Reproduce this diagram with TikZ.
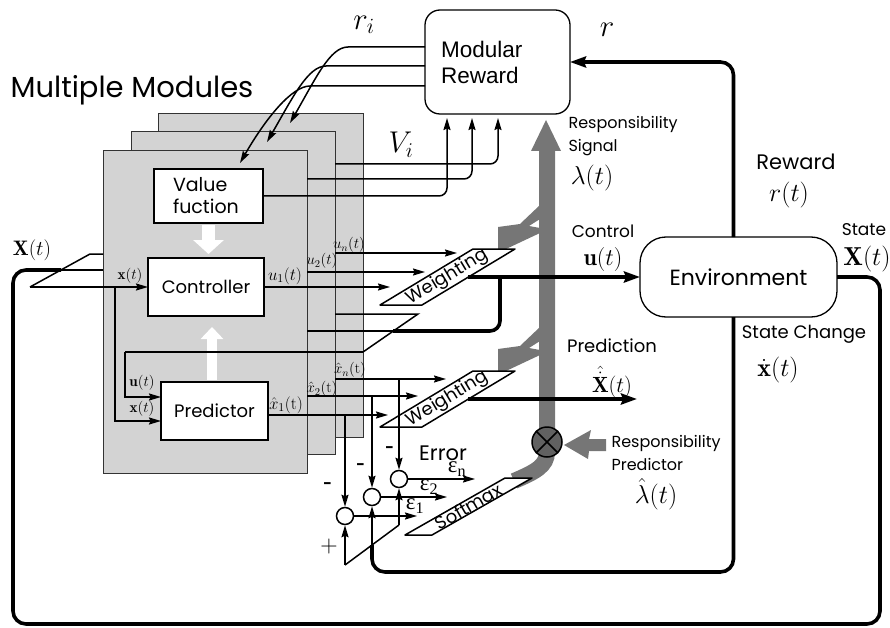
\documentclass[tikz,border=0pt]{standalone}
\usepackage{fix-cm}
\usepackage{fontspec}
\newfontfamily\gothic{Poppins}
\newfontfamily\arial{Liberation Sans}
\newfontfamily\tserif{Liberation Serif}
\usetikzlibrary{arrows.meta}
\definecolor{plategray}{HTML}{D3D3D3}
\definecolor{bargray}{HTML}{767676}
\begin{document}
\begin{tikzpicture}[x=1pt,y=-1pt,
  thinl/.style={line width=1.5pt},
  thickl/.style={line width=3.6pt},
  arr/.style={-{Stealth[length=12pt,width=7pt,inset=1.5pt]}},
  bigarr/.style={-{Stealth[length=16pt,width=11pt,inset=2pt]}},
  plate/.style={fill=plategray,draw=black!80,line width=1pt,inner sep=0pt,outer sep=0pt,anchor=north west},
  box/.style={draw,fill=white,line width=1.3pt,inner sep=0pt,outer sep=0pt},
  gt/.style={font=\gothic\fontsize{#1}{#1}\selectfont},
  mt/.style={font=\fontsize{#1}{#1}\selectfont,inner sep=0pt},
  et/.style={font=\tserif\fontsize{#1}{#1}\selectfont,inner sep=0pt},
  para/.style={draw,fill=white,line width=1.5pt,line join=round},
  sumc/.style={circle,draw,line width=1.5pt,minimum size=17pt,inner sep=0pt,fill=white}
]
\useasboundingbox (0,0) rectangle (890,628);

% ---------- module plates ----------
\node[plate, minimum width=205pt, minimum height=323pt] (p3) at (158,114) {};
\node[plate, minimum width=204pt, minimum height=322pt] (p2) at (131,132) {};
\node[plate, minimum width=204pt, minimum height=322pt] (p1) at (103,151) {};

\node[gt=29] (mm) at (132,90) {Multiple Modules};

% ---------- blocks ----------
\node[box, minimum width=109pt, minimum height=54pt, inner xsep=19pt, text width=71pt, align=left, gt=19] (val) at (208.5,196) {Value\\[3pt]fuction};
\node[box, minimum width=116pt, minimum height=58pt, gt=18] (ctrl) at (206,287) {Controller};
\node[box, minimum width=107pt, minimum height=58pt, gt=18] (pred) at (214.5,411) {Predictor};
\node[box, rounded corners=15pt, minimum width=145pt, minimum height=104pt, inner xsep=16pt, text width=113pt, align=left,
      font=\arial\fontsize{22.5}{26}\selectfont] (mr) at (497.5,62) {Modular\\Reward};
\node[box, rounded corners=26pt, minimum width=197pt, minimum height=80pt, gt=22] (env) at (738.5,277) {Environment};

% white arrows inside modules
\draw[white, line width=13pt, -{Triangle[length=14pt,width=30pt]}, shorten <=2pt, shorten >=4pt] (val.south) -- (ctrl.north -| val.south);
\coordinate (pa) at (212,381);
\coordinate (pb) at (212,318);
\draw[white, line width=10pt, -{Triangle[length=12pt,width=22pt]}, shorten <=1pt, shorten >=9pt] (pa) -- (pb);

% ---------- X(t) fan-out ----------
\coordinate (xs1) at (30,287);
\coordinate (xs2) at (90,254);
\coordinate (xsm) at (61,270);
\draw[thinl] (103,254) -- (xs2) -- (xs1);
\draw[thinl, arr] (xs1) -- (ctrl.west);
\draw[thinl] (xsm) -- (103,270);
\draw[thickl, rounded corners=13pt] (env.east) -- (880,277) -- (880,624) -- (13,624) -- (13,270) -- (xsm);
\node[mt=21] (xl) at (32,250) {$\mathbf{X}(t)$};

% x(t) into predictor
\coordinate (xv) at (115,287);
\draw[thinl, arr] (xv) |- ([yshift=-10pt]pred.west);
\node[mt=15] at (130,276) {$\mathbf{x}(t)$};
\node[mt=15] at (142,409) {$\mathbf{x}(t)$};
\node[mt=15] at (142,383) {$\mathbf{u}(t)$};

% ---------- u(t) fan-out ----------
\coordinate (us1) at (418,314);
\coordinate (us2) at (363,352);
\coordinate (usm) at (393,331);
\coordinate (uv) at (125,352);
\draw[thinl] (335,314) -- (us1) -- (us2);
\draw[thinl] (us2) -- (uv);
\draw[thinl, arr] (uv) |- ([yshift=14pt]pred.west);
\draw[thinl] (usm) -- (307,331);

% ---------- controller outputs ----------
\draw[thinl, arr] (ctrl.east) -- (390,287);
\draw[thinl, arr] (307,272) -- (425,272);
\draw[thinl, arr] (335,253) -- (457,253);
\node[mt=17] at (285,276) {$u_1(t)$};
\node[mt=15] at (322,261) {$u_2(t)$};
\node[mt=15] at (349,245) {$u_n(t)$};

% ---------- predictor outputs ----------
\draw[thinl, arr] ([yshift=-4pt]pred.east) -- (388,415);
\draw[thinl, arr] (307,396) -- (418,396);
\draw[thinl, arr] (335,379) -- (446,379);
\node[mt=17] at (286,405) {$\hat{x}_1(\mathrm{t})$};
\node[mt=15] at (322,389) {$\hat{x}_2(\mathrm{t})$};
\node[mt=15] at (350,370) {$\hat{x}_n(\mathrm{t})$};

% ---------- V_i lines ----------
\draw[thinl, arr, rounded corners=8pt] (val.east) -- (447,196) -- (447,118);
\draw[thinl, arr, rounded corners=8pt] (307,179) -- (472,179) -- (472,118);
\draw[thinl, arr, rounded corners=8pt] (335,164) -- (498,164) -- (498,118);
\node[mt=30] at (401,145) {$V_i$};

% ---------- r_i lines ----------
\draw[thinl, arr] (425,47) -- (348,47) .. controls (330,47) and (316,78) .. (290,123);
\draw[thinl, arr] (425,66) -- (326,66) .. controls (308,66) and (293,97) .. (267,142);
\draw[thinl, arr] (425,86) -- (310,86) .. controls (292,86) and (266,118) .. (240,163);
\node[mt=31] at (364,25) {$r_i$};

% ---------- reward ----------
\draw[thickl, bigarr, rounded corners=13pt] ([xshift=-5pt]env.north) -- (733.5,62) -- (mr.east);
\node[mt=31] at (607,30) {$r$};
\node[gt=21] at (796,162) {Reward};
\node[mt=26] at (789,195) {$r(t)$};

% ---------- responsibility bar ----------
\draw[bargray, line width=16pt] (547,150) -- (547,452) .. controls (547,466) and (535,472) .. (514,481);
\fill[bargray] (531,151) -- (546,120) -- (561,151) -- cycle;
\fill[bargray] (498,249) -- (498,227) -- (520,224) -- (540,205) -- (540,219) -- (529,226) -- (540,228) -- (540,233) -- (506,249) -- cycle;
\fill[bargray] (498,371) -- (498,349) -- (520,346) -- (540,327) -- (540,341) -- (529,348) -- (540,350) -- (540,355) -- (506,371) -- cycle;
\node[circle, draw, line width=1.5pt, fill=black!62, minimum size=30pt, inner sep=0pt] (mult) at (547,442) {};
\draw[line width=1.5pt] (mult.north west) -- (mult.south east);
\draw[line width=1.5pt] (mult.north east) -- (mult.south west);
\fill[bargray] (606,439) -- (589,439) -- (591,430) -- (564,445) -- (588,459) -- (589,451) -- (606,451) -- cycle;
\node[gt=16, align=left, anchor=west] at (565,136) {Responsibility\\[5pt]Signal};
\node[mt=26] at (592,178) {$\lambda(t)$};
\node[gt=16, align=left, anchor=west] at (608,453) {Responsibility\\[5pt]Predictor};
\node[mt=26] at (656,494) {$\hat{\lambda}(t)$};

% ---------- weighting blocks ----------
\draw[para] (380,305) -- (422,305) -- (515,249) -- (473,249) -- cycle;
\node[gt=18, rotate=31] (w1) at (447.5,277) {Weighting};
\draw[para] (380,427) -- (422,427) -- (515,371) -- (473,371) -- cycle;
\node[gt=18, rotate=31] (w2) at (447.5,399) {Weighting};
\draw[para] (405,535) -- (432,535) -- (532,478) -- (505,478) -- cycle;
\node[gt=18, rotate=30] (sm) at (468.5,506.5) {Softmax};

% ---------- control / prediction outputs ----------
\coordinate (wo1) at (468,277);
\coordinate (wo2) at (468,399);
\draw[thickl, bigarr] (wo1) -- (env.west);
\draw[thickl, rounded corners=10pt] (500,277) -- (500,331) -- (usm);
\draw[thickl, bigarr] (wo2) -- (637,399);
\node[gt=17] at (603,231) {Control};
\node[mt=24] at (603,259) {$\mathbf{u}(t)$};
\node[gt=18] at (612,346) {Prediction};
\node[mt=22] at (612,382) {$\hat{\dot{\mathbf{X}}}(t)$};
\node[gt=17] at (864,230) {State};
\node[mt=26] at (867,259) {$\mathbf{X}(t)$};
\node[gt=18] at (804,334) {State Change};
\node[mt=26] at (778,370) {$\dot{\mathbf{x}}(t)$};

% ---------- error computation ----------
\node[sumc] (c1) at (345,516) {};
\node[sumc] (c2) at (372,497) {};
\node[sumc] (c3) at (399,479) {};
\draw[thinl, arr] (345,415) -- (c1.north);
\draw[thinl, arr] (372,396) -- (c2.north);
\draw[thinl, arr] (399,379) -- (c3.north);
\coordinate (pl1) at (345,565);
\coordinate (pl3) at (399,525);
\coordinate (pl2) at (372,545);
\draw[thinl, arr] (pl1) -- (c1.south);
\draw[thinl] (pl1) -- (pl3);
\draw[thinl, arr] (pl3) -- (c3.south);
\draw[thickl, rounded corners=13pt] ([xshift=-5pt]env.south) -- (733.5,572) -- (372,572) -- (pl2);
\draw[thinl, arr] (pl2) -- (c2.south);
\draw[thinl, arr] (c1.east) -- (417,516);
\draw[thinl, arr] (c2.east) -- (447,497);
\draw[thinl, arr] (c3.east) -- (475,479);
\node[et=23] at (457,469) {ε\textsubscript{n}};
\node[et=23] at (429,487) {ε\textsubscript{2}};
\node[et=23] at (415,506) {ε\textsubscript{1}};
\node[gt=21] at (443,453) {Error};
\node[mt=22] at (328,486) {\textbf{-}};
\node[mt=22] at (361,467) {\textbf{-}};
\node[mt=22] at (390,450) {\textbf{-}};
\node[mt=24] at (329,547) {+};
\end{tikzpicture}
\end{document}
